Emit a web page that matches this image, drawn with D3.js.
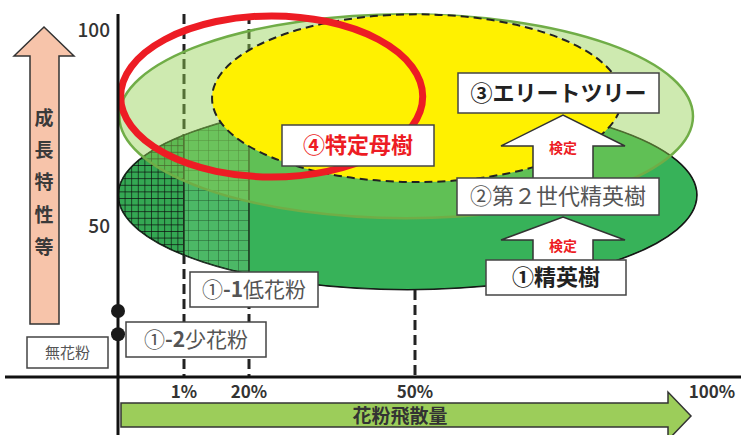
<!DOCTYPE html>
<html lang="ja">
<head>
<meta charset="UTF-8">
<title>花粉飛散量と成長特性</title>
<script src="https://cdn.jsdelivr.net/npm/d3@7/dist/d3.min.js"></script>
<style>
	body { margin: 0; background: #fff; }
	text { font-family: "Noto Sans CJK JP", "Noto Sans", sans-serif; }
</style>
</head>
<body>
<script>
// ---- data ----
var xTicks = [1, 20, 50, 100];
var xTickLabels = ['1%', '20%', '50%', '100%'];
var yTicks = [50, 100];

// ellipses: extents in (pollen %, growth score)
var groups = ['①精英樹', '②第２世代精英樹', '③エリートツリー', '④特定母樹'];
var xLeft = [0, 0.02, 9.2, 0.04];
var xRight = [97.5, 96.8, 84.8, 51.3];
var yBottom = [33.7, 52, 61.2, 62.5];
var yTop = [82.1, 104, 104, 103.6];

// hatched bands inside ①
var bandFrom = [0, 1];
var bandTo = [1, 20];

// dots on the y axis
var dotX = [0, 0];
var dotY = [28.3, 22.4];

var W = 741, H = 435;
var svg = d3.select('body').append('svg')
	.attr('width', W).attr('height', H);

var x = d3.scaleLinear().domain([0, 1, 20, 50, 100]).range([118, 184, 249, 415, 712]);
var y = d3.scaleLinear().domain([50, 100]).range([226, 30]);
var axisY = 377;

function ell(i) {
	var l = x(xLeft[i]), r = x(xRight[i]), t = y(yTop[i]), b = y(yBottom[i]);
	return {cx: (l + r) / 2, cy: (t + b) / 2, rx: (r - l) / 2, ry: (b - t) / 2};
}

var defs = svg.append('defs');
var e0 = ell(0);
defs.append('clipPath').attr('id', 'clipElite')
	.append('ellipse').attr('cx', e0.cx).attr('cy', e0.cy).attr('rx', e0.rx).attr('ry', e0.ry);

function gridPattern(id, size, bg, line, lw) {
	var p = defs.append('pattern').attr('id', id)
		.attr('patternUnits', 'userSpaceOnUse')
		.attr('x', x(0)).attr('y', 0)
		.attr('width', size).attr('height', size);
	p.append('rect').attr('width', size).attr('height', size).attr('fill', bg);
	p.append('path').attr('d', 'M0 0H' + size + 'M0 0V' + size)
		.attr('stroke', line).attr('stroke-width', lw).attr('fill', 'none');
}
gridPattern('gridDense', 6.6, '#34a853', '#0d0d0d', 1.3);
gridPattern('gridSparse', 10, '#4cb866', '#1f4f2a', 0.9);

// dashed guides (behind the ellipses)
var guideTop = {1: 14, 20: 14, 50: y(yBottom[0])};
svg.selectAll('.guide').data([1, 20, 50]).enter().append('line')
	.attr('class', 'guide')
	.attr('x1', function (d) { return x(d); }).attr('x2', function (d) { return x(d); })
	.attr('y1', function (d) { return guideTop[d]; }).attr('y2', axisY)
	.attr('stroke', '#222').attr('stroke-width', 3).attr('stroke-dasharray', '10,5');

// ① 精英樹
svg.append('ellipse').attr('cx', e0.cx).attr('cy', e0.cy).attr('rx', e0.rx).attr('ry', e0.ry)
	.attr('fill', '#37b259').attr('stroke', '#222').attr('stroke-width', 1.2);

var hatch = svg.append('g').attr('clip-path', 'url(#clipElite)');
hatch.selectAll('rect').data(bandFrom).enter().append('rect')
	.attr('x', function (d) { return x(d); })
	.attr('width', function (d, i) { return x(bandTo[i]) - x(d); })
	.attr('y', e0.cy - e0.ry).attr('height', e0.ry * 2)
	.attr('fill', function (d, i) { return i === 0 ? 'url(#gridDense)' : 'url(#gridSparse)'; })
	.attr('stroke', function (d, i) { return i === 0 ? '#111' : '#1f3a22'; })
	.attr('stroke-width', function (d, i) { return i === 0 ? 2 : 1.5; });
hatch.append('ellipse').attr('cx', e0.cx).attr('cy', e0.cy).attr('rx', e0.rx).attr('ry', e0.ry)
	.attr('fill', 'none').attr('stroke', '#111').attr('stroke-width', 2);

// ② 第２世代精英樹
var e1 = ell(1);
svg.append('ellipse').attr('cx', e1.cx).attr('cy', e1.cy).attr('rx', e1.rx).attr('ry', e1.ry)
	.attr('fill', 'rgb(146,208,80)').attr('fill-opacity', 0.45)
	.attr('stroke', '#70ad47').attr('stroke-width', 2.5);

// ③ エリートツリー
var e2 = ell(2);
svg.append('ellipse').attr('cx', e2.cx).attr('cy', e2.cy).attr('rx', e2.rx).attr('ry', e2.ry)
	.attr('fill', '#fff100').attr('stroke', '#222').attr('stroke-width', 2)
	.attr('stroke-dasharray', '8,5');

// ④ 特定母樹
var e3 = ell(3);
svg.append('ellipse').attr('cx', e3.cx).attr('cy', e3.cy).attr('rx', e3.rx).attr('ry', e3.ry)
	.attr('fill', 'none').attr('stroke', '#ed1c24').attr('stroke-width', 7);

// axes
svg.append('line').attr('x1', x(0)).attr('x2', x(0)).attr('y1', 14).attr('y2', H)
	.attr('stroke', '#111').attr('stroke-width', 3);
svg.append('line').attr('x1', 5).attr('x2', W).attr('y1', axisY).attr('y2', axisY)
	.attr('stroke', '#111').attr('stroke-width', 3);

svg.selectAll('.ytick').data(yTicks).enter().append('text')
	.attr('class', 'ytick')
	.attr('x', 110).attr('y', function (d) { return y(d); })
	.attr('dy', '0.35em').attr('text-anchor', 'end')
	.attr('font-size', 19).attr('font-weight', 500).attr('fill', '#333')
	.text(function (d) { return d; });

svg.selectAll('.xtick').data(xTicks).enter().append('text')
	.attr('class', 'xtick')
	.attr('x', function (d) { return x(d); }).attr('y', 392)
	.attr('dy', '0.35em').attr('text-anchor', 'middle')
	.attr('font-size', 17).attr('font-weight', 'bold').attr('fill', '#333')
	.text(function (d, i) { return xTickLabels[i]; });

svg.selectAll('.dot').data(dotX).enter().append('circle')
	.attr('cx', function (d) { return x(d); })
	.attr('cy', function (d, i) { return y(dotY[i]); })
	.attr('r', 7).attr('fill', '#1a1a1a');

// axis arrows
svg.append('polygon')
	.attr('points', '14,56 44,27 74,56 59,56 59,324 30,324 30,56')
	.attr('fill', '#f7c4aa').attr('stroke', '#333').attr('stroke-width', 1.5);
svg.selectAll('.ylab').data('成長特性等'.split('')).enter().append('text')
	.attr('x', 44).attr('y', function (d, i) { return 118 + i * 32.3; })
	.attr('dy', '0.35em').attr('text-anchor', 'middle')
	.attr('font-size', 19).attr('font-weight', 'bold').attr('fill', '#3a3a3a')
	.text(function (d) { return d; });

svg.append('polygon')
	.attr('points', '121,403 668,403 668,392 691,416 668,440 668,427 121,427')
	.attr('fill', '#9ccd5a').attr('stroke', '#333').attr('stroke-width', 1.5);
svg.append('text').attr('x', 400).attr('y', 416).attr('dy', '0.35em')
	.attr('text-anchor', 'middle').attr('font-size', 19).attr('font-weight', 'bold')
	.attr('fill', '#333').text('花粉飛散量');

// 検定 arrows
function blockArrow(tipY, headY, baseY, label, labelY) {
	svg.append('polygon')
		.attr('points', [[501, headY], [563, tipY], [625, headY], [593, headY],
			[593, baseY], [533, baseY], [533, headY]].join(' '))
		.attr('fill', '#fff').attr('stroke', '#333').attr('stroke-width', 1.5);
	svg.append('text').attr('x', 563).attr('y', labelY).attr('dy', '0.35em')
		.attr('text-anchor', 'middle').attr('font-size', 14).attr('font-weight', 'bold')
		.attr('fill', '#ed1c24').text(label);
}
blockArrow(115, 146, 179, '検定', 148);
blockArrow(217, 240, 261, '検定', 246);

// label boxes (parts: [text, bold])
var boxes = [
	{x: 458, y: 73, w: 201, h: 40, t: [[groups[2], 1]], fs: 22, c: '#222'},
	{x: 457, y: 178, w: 202, h: 37, t: [[groups[1], 0]], fs: 22, c: '#555'},
	{x: 486, y: 260, w: 140, h: 35, t: [[groups[0], 1]], fs: 22, c: '#222'},
	{x: 282, y: 125, w: 152, h: 41, t: [[groups[3], 1]], fs: 22, c: '#ed1c24'},
	{x: 190, y: 272, w: 128, h: 35, t: [['①', 0], ['-1', 1], ['低花粉', 0]], fs: 21, c: '#555'},
	{x: 126, y: 322, w: 140, h: 35, t: [['①', 0], ['-2', 1], ['少花粉', 0]], fs: 21, c: '#555'},
	{x: 27, y: 337, w: 81, h: 31, t: [['無花粉', 0]], fs: 15, c: '#555'}
];
var bg = svg.selectAll('.box').data(boxes).enter().append('g').attr('class', 'box');
bg.append('rect')
	.attr('x', function (d) { return d.x; }).attr('y', function (d) { return d.y; })
	.attr('width', function (d) { return d.w; }).attr('height', function (d) { return d.h; })
	.attr('fill', '#fff').attr('stroke', '#444').attr('stroke-width', 1.5);
bg.append('text')
	.attr('x', function (d) { return d.x + d.w / 2; })
	.attr('y', function (d) { return d.y + d.h / 2; })
	.attr('dy', '0.35em').attr('text-anchor', 'middle')
	.attr('font-size', function (d) { return d.fs; })
	.attr('fill', function (d) { return d.c; })
	.selectAll('tspan').data(function (d) { return d.t; }).enter().append('tspan')
	.attr('font-weight', function (p) { return p[1] ? 'bold' : 'normal'; })
	.text(function (p) { return p[0]; });
</script>
</body>
</html>
